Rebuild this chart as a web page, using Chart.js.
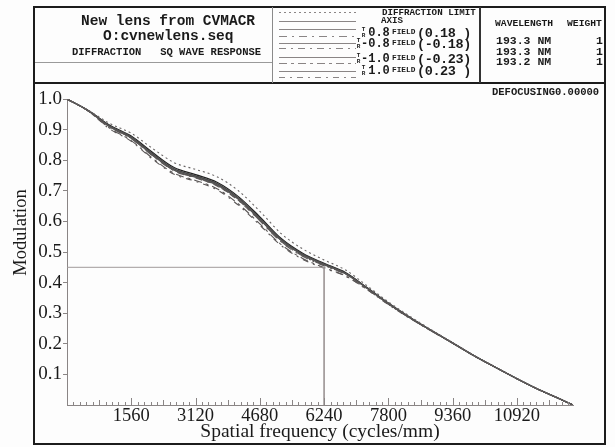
<!DOCTYPE html>
<html>
<head>
<meta charset="utf-8">
<title>Diffraction SQ wave response</title>
<script src="https://cdn.jsdelivr.net/npm/chart.js@4.4.1/dist/chart.umd.min.js"></script>
<style>
    body { margin: 0; background: #fdfdfd; }
    #page { position: relative; width: 615px; height: 447px; overflow: hidden; }
    #mtfChart { position: absolute; left: 0; top: 0; }
    .box { position: absolute; pointer-events: none; }
    .t {
        position: absolute;
        font-family: 'Liberation Mono', 'DejaVu Sans Mono', monospace;
        font-weight: bold;
        color: #1a1a1a;
        white-space: pre;
        line-height: 1;
    }
    .tr { font-size: 6px; line-height: 6px; width: 5px; text-align: center; }
    .ytitle {
        position: absolute;
        font-family: 'Liberation Serif', serif;
        font-size: 18.5px;
        color: #1a1a1a;
        transform: rotate(-90deg);
        transform-origin: center center;
        white-space: nowrap;
    }
</style>
</head>
<body>
<div id="page">
    <canvas id="mtfChart" width="615" height="447"></canvas>

    <!-- frame and header boxes -->
    <div class="box" style="left:33px;top:6px;width:573px;height:439px;border:2px solid #1c1c1c;box-sizing:border-box;"></div>
    <div class="box" style="left:33px;top:82px;width:573px;height:2px;background:#1c1c1c;"></div>
    <div class="box" style="left:272px;top:7px;width:1px;height:76px;background:#8a8a8a;"></div>
    <div class="box" style="left:35px;top:62px;width:237px;height:1px;background:#9a9a9a;"></div>
    <div class="box" style="left:479px;top:7px;width:2px;height:76px;background:#333;"></div>

    <!-- title block -->
    <div class="t" style="left:81px;top:14px;font-size:14.5px;">New lens from CVMACR</div>
    <div class="t" style="left:103px;top:29px;font-size:14.5px;">O:cvnewlens.seq</div>
    <div class="t" style="left:72px;top:47px;font-size:10.5px;">DIFFRACTION   SQ WAVE RESPONSE</div>

    <!-- legend -->
    <svg class="box" style="left:276px;top:6px;" width="84" height="77" id="legendLines"></svg>
    <div class="t" style="left:382px;top:8px;font-size:9.2px;">DIFFRACTION LIMIT</div>
    <div class="t" style="left:381px;top:16px;font-size:9.2px;">AXIS</div>
    <div id="legendRows"></div>

    <!-- wavelengths -->
    <div class="t" style="left:495px;top:19px;font-size:9.7px;">WAVELENGTH</div>
    <div class="t" style="left:567px;top:19px;font-size:9.7px;">WEIGHT</div>
    <div id="wavelengthRows"></div>

    <div class="t" style="left:492px;top:87px;font-size:10.5px;">DEFOCUSING0.00000</div>

    <div class="ytitle" style="left:-25px;top:222px;width:90px;text-align:center;">Modulation</div>
</div>

<script>
// Spatial frequencies (cycles/mm) where the curves were read
const frequencies = [0, 520, 1040, 1560, 2080, 2600, 3120, 3640, 4160, 4680, 5200, 5720,
    6240, 6760, 7280, 7800, 8320, 8840, 9360, 9880, 10400, 10920, 11440, 11960, 12280];

// Modulation of each curve
const diffractionLimit = [1.000, 0.963, 0.920, 0.888, 0.838, 0.792, 0.770, 0.746, 0.700, 0.633, 0.560, 0.510,
    0.474, 0.441, 0.390, 0.337, 0.290, 0.246, 0.204, 0.162, 0.124, 0.087, 0.051, 0.020, 0.000];
const axisCurve = [1.000, 0.962, 0.914, 0.879, 0.825, 0.776, 0.753, 0.728, 0.681, 0.615, 0.544, 0.496,
    0.463, 0.433, 0.384, 0.333, 0.287, 0.244, 0.203, 0.161, 0.123, 0.086, 0.051, 0.020, 0.000];
const field08T = [1.000, 0.962, 0.912, 0.876, 0.821, 0.772, 0.749, 0.724, 0.677, 0.611, 0.541, 0.493,
    0.461, 0.431, 0.383, 0.332, 0.286, 0.244, 0.203, 0.161, 0.123, 0.086, 0.051, 0.020, 0.000];
const field08R = [1.000, 0.961, 0.909, 0.871, 0.815, 0.766, 0.743, 0.717, 0.669, 0.603, 0.534, 0.487,
    0.456, 0.428, 0.381, 0.331, 0.285, 0.243, 0.202, 0.161, 0.123, 0.086, 0.051, 0.020, 0.000];
const fieldM08T = [1.000, 0.962, 0.911, 0.875, 0.820, 0.771, 0.748, 0.723, 0.676, 0.610, 0.540, 0.492,
    0.460, 0.430, 0.382, 0.332, 0.286, 0.243, 0.203, 0.161, 0.123, 0.086, 0.051, 0.020, 0.000];
const fieldM08R = [1.000, 0.961, 0.908, 0.870, 0.814, 0.765, 0.742, 0.716, 0.668, 0.602, 0.533, 0.486,
    0.455, 0.427, 0.380, 0.330, 0.285, 0.243, 0.202, 0.161, 0.123, 0.086, 0.051, 0.020, 0.000];
const fieldM10T = [1.000, 0.961, 0.910, 0.873, 0.817, 0.768, 0.745, 0.720, 0.673, 0.607, 0.538, 0.490,
    0.459, 0.429, 0.382, 0.331, 0.285, 0.243, 0.202, 0.161, 0.123, 0.086, 0.051, 0.020, 0.000];
const fieldM10R = [1.000, 0.960, 0.904, 0.864, 0.806, 0.757, 0.734, 0.707, 0.657, 0.592, 0.524, 0.479,
    0.449, 0.422, 0.378, 0.329, 0.284, 0.242, 0.202, 0.160, 0.123, 0.086, 0.051, 0.020, 0.000];
const field10T = [1.000, 0.961, 0.909, 0.872, 0.816, 0.767, 0.744, 0.719, 0.672, 0.606, 0.537, 0.490,
    0.458, 0.429, 0.381, 0.331, 0.285, 0.243, 0.202, 0.161, 0.123, 0.086, 0.051, 0.020, 0.000];
const field10R = [1.000, 0.960, 0.902, 0.862, 0.803, 0.754, 0.731, 0.703, 0.653, 0.588, 0.521, 0.476,
    0.447, 0.421, 0.377, 0.328, 0.283, 0.242, 0.202, 0.160, 0.123, 0.086, 0.051, 0.020, 0.000];

// Read-off guide line (frequency, modulation)
const readFrequency = [0, 6240, 6240];
const readModulation = [0.45, 0.45, 0];

// Axis ticks
const xTickValues = [1560, 3120, 4680, 6240, 7800, 9360, 10920];
const yTickValues = [0.1, 0.2, 0.3, 0.4, 0.5, 0.6, 0.7, 0.8, 0.9, 1.0];
const maxFrequency = 12280;

// Legend rows: field label, field value
const fieldLabels = [' 0.8', '-0.8', '-1.0', ' 1.0'];
const fieldValues = ['(0.18 )', '(-0.18)', '(-0.23)', '(0.23 )'];

// Wavelengths and weights
const wavelengths = ['193.3 NM', '193.3 NM', '193.2 NM'];
const weights = ['1', '1', '1'];

document.addEventListener('DOMContentLoaded', function() {

    // Dash patterns shared by the plot and the legend samples
    const dotted = [2, 3];
    const dashR = [[8, 5, 2, 5], [7, 5, 2, 5], [8, 4, 3, 4], [6, 5, 2, 5]];

    // Legend line samples
    const svg = document.getElementById('legendLines');
    const sampleRows = [
        { y: 6, dash: dotted },
        { y: 15, dash: null },
        { y: 23, dash: null },
        { y: 30, dash: dashR[0] },
        { y: 37, dash: null },
        { y: 42, dash: dashR[1] },
        { y: 51, dash: null },
        { y: 57, dash: dashR[2] },
        { y: 65, dash: null },
        { y: 71, dash: dashR[3] }
    ];
    sampleRows.forEach(row => {
        const line = document.createElementNS('http://www.w3.org/2000/svg', 'line');
        line.setAttribute('x1', 3);
        line.setAttribute('x2', 80);
        line.setAttribute('y1', row.y + 0.5);
        line.setAttribute('y2', row.y + 0.5);
        line.setAttribute('stroke', '#8a8585');
        line.setAttribute('stroke-width', 1.2);
        if (row.dash) line.setAttribute('stroke-dasharray', row.dash.join(' '));
        svg.appendChild(line);
    });

    // Legend text rows
    const rowsDiv = document.getElementById('legendRows');
    const rowY = [33, 44, 59, 71];
    fieldLabels.forEach((label, i) => {
        const y = rowY[i];
        rowsDiv.insertAdjacentHTML('beforeend',
            '<div class="t tr" style="left:' + (label[0] === '-' ? 356 : 361) + 'px;top:' + (y - 6) + 'px;">T<br>R</div>' +
            '<div class="t" style="left:361px;top:' + (y - 6) + 'px;font-size:12px;">' + label + '</div>' +
            '<div class="t" style="left:392px;top:' + (y - 4) + 'px;font-size:7.8px;">FIELD</div>' +
            '<div class="t" style="left:417px;top:' + (y - 6) + 'px;font-size:13.5px;letter-spacing:-0.4px;">' + fieldValues[i] + '</div>');
    });

    // Wavelength rows
    const wlDiv = document.getElementById('wavelengthRows');
    const wlY = [41, 51.5, 62];
    wavelengths.forEach((wl, i) => {
        wlDiv.insertAdjacentHTML('beforeend',
            '<div class="t" style="left:496px;top:' + (wlY[i] - 6) + 'px;font-size:11.5px;">' + wl + '</div>' +
            '<div class="t" style="left:580px;width:23px;text-align:right;top:' + (wlY[i] - 6) + 'px;font-size:11.5px;">' + weights[i] + '</div>');
    });

    // Turns a value list into {x, y} points
    const toPoints = (xs, ys) => xs.map((x, i) => ({ x: x, y: ys[i] }));

    const curve = (values, color, dash, width) => ({
        data: toPoints(frequencies, values),
        borderColor: color,
        borderWidth: width,
        borderDash: dash || [],
        pointRadius: 0,
        fill: false,
        cubicInterpolationMode: 'monotone'
    });

    // Inward minor ticks on the frequency axis
    const minorTicks = {
        id: 'minorTicks',
        afterDraw(chart) {
            const ctx = chart.ctx;
            const xs = chart.scales.x;
            const y0 = chart.chartArea.bottom;
            ctx.save();
            ctx.strokeStyle = '#8a8585';
            ctx.lineWidth = 1;
            for (let f = 156; f < maxFrequency; f += 156) {
                const len = f % 1560 === 0 ? 7 : (f % 780 === 0 ? 5 : 3);
                const x = Math.round(xs.getPixelForValue(f)) + 0.5;
                ctx.beginPath();
                ctx.moveTo(x, y0);
                ctx.lineTo(x, y0 - len);
                ctx.stroke();
            }
            ctx.restore();
        }
    };

    const ctx = document.getElementById('mtfChart').getContext('2d');
    new Chart(ctx, {
        type: 'line',
        data: {
            datasets: [
                {
                    data: toPoints(readFrequency, readModulation),
                    borderColor: '#a09a9a',
                    borderWidth: 1,
                    pointRadius: 0,
                    tension: 0
                },
                curve(diffractionLimit, '#6a6666', dotted, 1.1),
                curve(field10R, '#5a5656', dashR[3], 1.1),
                curve(fieldM10R, '#5a5656', dashR[2], 1.1),
                curve(fieldM08R, '#5a5656', dashR[1], 1.1),
                curve(field08R, '#5a5656', dashR[0], 1.1),
                curve(field10T, '#555', null, 1.1),
                curve(fieldM10T, '#555', null, 1.1),
                curve(fieldM08T, '#4a4a4a', null, 1.1),
                curve(field08T, '#4a4a4a', null, 1.1),
                curve(axisCurve, '#222', null, 1.2)
            ]
        },
        options: {
            responsive: false,
            animation: false,
            devicePixelRatio: 1,
            layout: { padding: { top: 99, right: 42, left: 0, bottom: 0 } },
            plugins: {
                legend: { display: false },
                tooltip: { enabled: false }
            },
            scales: {
                x: {
                    type: 'linear',
                    min: 0,
                    max: maxFrequency,
                    afterFit: scale => { scale.height = 42; },
                    afterBuildTicks: scale => { scale.ticks = xTickValues.map(v => ({ value: v })); },
                    grid: { display: false, drawTicks: false },
                    border: { display: true, color: '#8a8585', width: 1 },
                    ticks: {
                        autoSkip: false,
                        maxRotation: 0,
                        padding: 0,
                        color: '#1a1a1a',
                        font: { family: 'Liberation Serif', size: 18.5 },
                        callback: v => String(v)
                    },
                    title: {
                        display: true,
                        text: 'Spatial frequency (cycles/mm)',
                        color: '#1a1a1a',
                        font: { family: 'Liberation Serif', size: 19.5 },
                        padding: { top: 0, bottom: 3 }
                    }
                },
                y: {
                    min: 0,
                    max: 1,
                    afterFit: scale => { scale.width = 67; },
                    afterBuildTicks: scale => { scale.ticks = yTickValues.map(v => ({ value: v })); },
                    grid: { display: true, drawOnChartArea: false, drawTicks: true, tickLength: 4, color: '#8a8585' },
                    border: { display: true, color: '#8a8585', width: 1 },
                    ticks: {
                        padding: 1,
                        color: '#1a1a1a',
                        font: { family: 'Liberation Serif', size: 19 },
                        callback: v => v.toFixed(1)
                    }
                }
            }
        },
        plugins: [minorTicks]
    });
});
</script>
</body>
</html>
